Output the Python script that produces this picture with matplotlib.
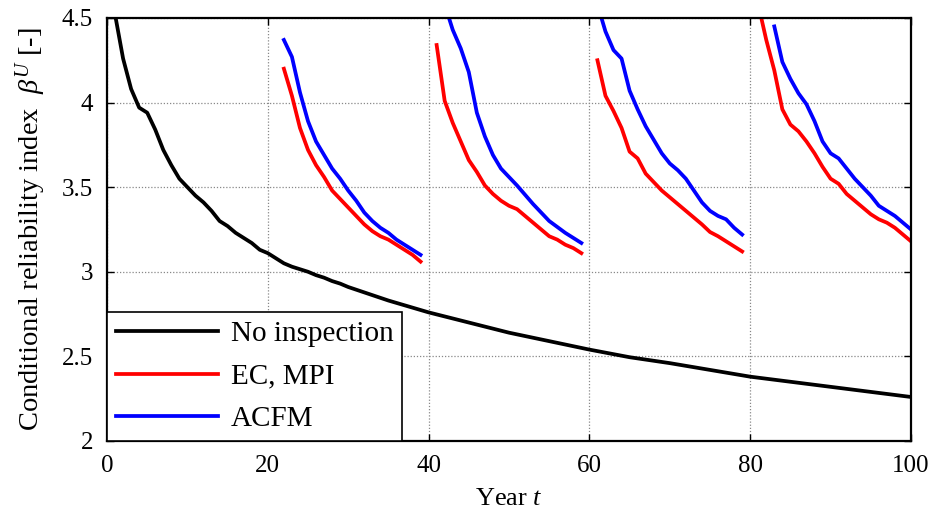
import matplotlib
matplotlib.use("Agg")
import matplotlib.pyplot as plt
import numpy as np

plt.rcParams['font.family'] = ['Liberation Serif', 'DejaVu Serif']
plt.rcParams['mathtext.fontset'] = 'custom'
plt.rcParams['mathtext.rm'] = 'Liberation Serif'
plt.rcParams['mathtext.it'] = 'Liberation Serif:italic'

# No inspection
t_none = [1, 2, 3, 4, 5, 6, 7, 8, 9, 10, 11, 12, 13, 14, 15, 16, 17, 18, 19, 20,
          21, 22, 23, 24, 25, 26, 27, 28, 29, 30, 35, 40, 45, 50, 55, 60, 65, 70,
          75, 80, 85, 90, 95, 100]
b_none = [4.52, 4.26, 4.08, 3.97, 3.94, 3.84, 3.72, 3.63, 3.55, 3.50, 3.45, 3.41,
          3.36, 3.30, 3.27, 3.23, 3.20, 3.17, 3.13, 3.11, 3.08, 3.05, 3.03, 3.015,
          3.00, 2.98, 2.965, 2.945, 2.93, 2.91, 2.83, 2.76, 2.70, 2.64, 2.59, 2.54,
          2.495, 2.46, 2.42, 2.38, 2.35, 2.32, 2.29, 2.26]

# EC, MPI (red) - four inspection periods
t_ec1 = list(range(22, 40))
b_ec1 = [4.20, 4.04, 3.85, 3.72, 3.63, 3.56, 3.48, 3.43, 3.38, 3.33, 3.28, 3.24,
         3.21, 3.19, 3.16, 3.13, 3.10, 3.06]
t_ec2 = list(range(41, 60))
b_ec2 = [4.34, 4.01, 3.88, 3.77, 3.66, 3.59, 3.51, 3.46, 3.42, 3.39, 3.37, 3.33,
         3.29, 3.25, 3.21, 3.19, 3.16, 3.14, 3.11]
t_ec3 = list(range(61, 80))
b_ec3 = [4.25, 4.04, 3.95, 3.85, 3.71, 3.67, 3.58, 3.53, 3.48, 3.44, 3.40, 3.36,
         3.32, 3.28, 3.235, 3.21, 3.18, 3.15, 3.12]
t_ec4 = list(range(81, 101))
b_ec4 = [4.58, 4.37, 4.19, 3.96, 3.87, 3.83, 3.77, 3.70, 3.62, 3.55, 3.52, 3.46,
         3.42, 3.38, 3.34, 3.31, 3.29, 3.26, 3.22, 3.18]

# ACFM (blue)
t_ac1 = list(range(22, 40))
b_ac1 = [4.37, 4.27, 4.06, 3.89, 3.77, 3.69, 3.61, 3.55, 3.48, 3.42, 3.35, 3.30,
         3.26, 3.23, 3.19, 3.16, 3.13, 3.10]
t_ac2 = list(range(41, 60))
b_ac2 = [4.72, 4.58, 4.43, 4.32, 4.18, 3.94, 3.80, 3.69, 3.61, 3.56, 3.51, 3.455,
         3.40, 3.35, 3.30, 3.265, 3.23, 3.20, 3.17]
t_ac3 = list(range(61, 80))
b_ac3 = [4.58, 4.42, 4.31, 4.26, 4.07, 3.96, 3.86, 3.78, 3.70, 3.64, 3.60, 3.55,
         3.48, 3.41, 3.36, 3.33, 3.31, 3.26, 3.22]
t_ac4 = list(range(83, 101))
b_ac4 = [4.45, 4.24, 4.14, 4.055, 3.99, 3.89, 3.77, 3.70, 3.67, 3.61, 3.55, 3.50,
         3.45, 3.39, 3.36, 3.33, 3.29, 3.25]

xticks = [0, 20, 40, 60, 80, 100]
yticks = [2, 2.5, 3, 3.5, 4, 4.5]
ytick_labels = ['2', '2.5', '3', '3.5', '4', '4.5']

fig = plt.figure(figsize=(9.33, 5.13), dpi=100)
ax = fig.add_axes([0.1147, 0.1404, 0.8617, 0.8246])

lw = 2.7
ax.plot(t_none, b_none, color='black', lw=lw, label='No inspection')
for i, (t, b) in enumerate([(t_ec1, b_ec1), (t_ec2, b_ec2), (t_ec3, b_ec3), (t_ec4, b_ec4)]):
    ax.plot(t, b, color='#ff0000', lw=lw, label='EC, MPI' if i == 0 else None)
for i, (t, b) in enumerate([(t_ac1, b_ac1), (t_ac2, b_ac2), (t_ac3, b_ac3), (t_ac4, b_ac4)]):
    ax.plot(t, b, color='#0000ff', lw=lw, label='ACFM' if i == 0 else None)

ax.set_xlim(0, 100)
ax.set_ylim(2, 4.5)
ax.set_xticks(xticks)
ax.set_yticks(yticks)
ax.set_yticklabels(ytick_labels)
ax.tick_params(direction='in', top=True, right=True, labelsize=18, length=5, width=1)
ax.tick_params(axis='x', pad=10)
ax.tick_params(axis='y', pad=10)
ax.grid(True, color='#888888', linestyle=(0, (1, 1.5)), linewidth=0.9)
for s in ax.spines.values():
    s.set_linewidth(1.6)

ax.set_xlabel('Year $t$', fontsize=19, labelpad=8)
ax.set_ylabel(r'Conditional reliability index  $\beta^U$ [-]', fontsize=20.5, labelpad=10)

leg = ax.legend(loc='lower left', fontsize=21, handlelength=3.5, borderaxespad=0,
                frameon=True, fancybox=False, borderpad=0.3, labelspacing=0.55,
                handletextpad=0.45)
leg.get_frame().set_edgecolor('black')
leg.get_frame().set_linewidth(1.2)
leg.get_frame().set_alpha(1)

fig.savefig('out.png', dpi=100)
